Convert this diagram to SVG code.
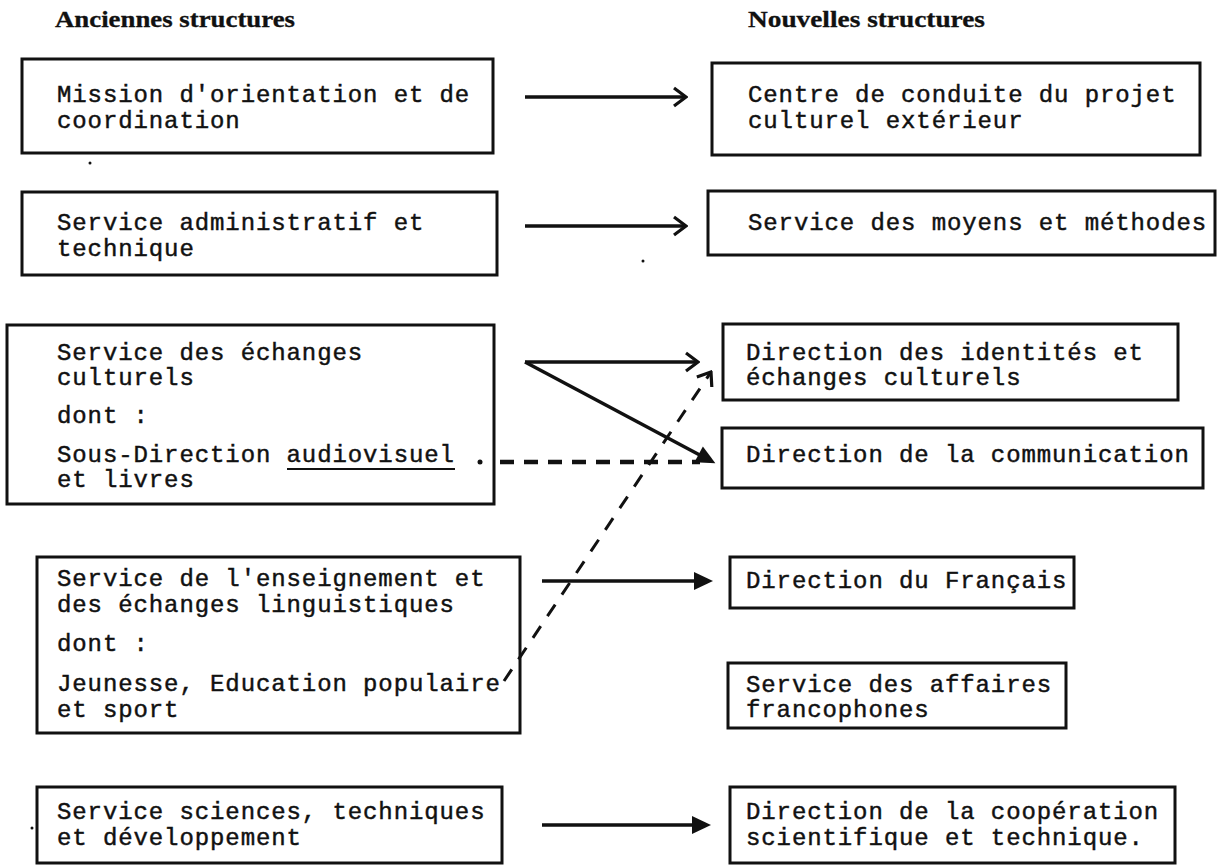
<svg xmlns="http://www.w3.org/2000/svg" width="1223" height="865" viewBox="0 0 1223 865">
<style>
  .bg { fill: #ffffff; }
  .box { fill: none; stroke: #111; stroke-width: 3; }
  .t { font-family: "Liberation Mono", "DejaVu Sans Mono", monospace; font-size: 24px; letter-spacing: 0.9px; fill: #111; stroke: #111; stroke-width: 0.45; }
  .h { font-family: "Liberation Serif", "Times New Roman", serif; font-size: 23px; font-weight: bold; fill: #111; stroke: #111; stroke-width: 0.3; }
  .ln { fill: none; stroke: #111; stroke-width: 3.5; }
  .dash { fill: none; stroke: #111; stroke-width: 4.5; stroke-dasharray: 14 10; }
  .dash2 { fill: none; stroke: #111; stroke-width: 3; stroke-dasharray: 14 12; }
  .ul { stroke: #111; stroke-width: 2; }
</style>
<defs>
  <marker id="open" viewBox="-16 -11 18 22" markerUnits="userSpaceOnUse" markerWidth="18" markerHeight="22" refX="0" refY="0" orient="auto">
    <path d="M-12,-9 L0,0 L-12,9" fill="none" stroke="#111" stroke-width="3.2"/>
  </marker>
  <marker id="fill" viewBox="-18 -11 24 22" markerUnits="userSpaceOnUse" markerWidth="24" markerHeight="22" refX="0" refY="0" orient="auto">
    <path d="M-14,-9 L5,0 L-14,9 Z" fill="#111"/>
  </marker>
</defs>
<rect class="bg" x="0" y="0" width="1223" height="865"/>

<g id="headers">
  <text class="h" x="55" y="27" textLength="240" lengthAdjust="spacingAndGlyphs">Anciennes structures</text>
  <text class="h" x="748" y="27" textLength="237" lengthAdjust="spacingAndGlyphs">Nouvelles structures</text>
</g>

<g id="old-mission">
  <rect class="box" x="22" y="59" width="471" height="94"/>
  <text class="t" x="57" y="102">Mission d'orientation et de</text>
  <text class="t" x="57" y="128">coordination</text>
</g>
<g id="old-admin">
  <rect class="box" x="22" y="192" width="475" height="83"/>
  <text class="t" x="57" y="230">Service administratif et</text>
  <text class="t" x="57" y="256">technique</text>
</g>
<g id="old-echanges">
  <rect class="box" x="7" y="325" width="487" height="179"/>
  <text class="t" x="57" y="360">Service des échanges</text>
  <text class="t" x="57" y="385">culturels</text>
  <text class="t" x="57" y="423">dont :</text>
  <text class="t" x="57" y="462">Sous-Direction audiovisuel</text>
  <line class="ul" x1="287" y1="469" x2="455" y2="469"/>
  <text class="t" x="57" y="487">et livres</text>
</g>
<g id="old-enseignement">
  <rect class="box" x="37" y="557" width="483" height="176"/>
  <text class="t" x="57" y="586">Service de l'enseignement et</text>
  <text class="t" x="57" y="612">des échanges linguistiques</text>
  <text class="t" x="57" y="651">dont :</text>
  <text class="t" x="57" y="691">Jeunesse, Education populaire</text>
  <text class="t" x="57" y="717">et sport</text>
</g>
<g id="old-sciences">
  <rect class="box" x="37" y="787" width="465" height="76"/>
  <text class="t" x="57" y="819">Service sciences, techniques</text>
  <text class="t" x="57" y="845">et développement</text>
</g>

<g id="new-centre">
  <rect class="box" x="712" y="63" width="488" height="92"/>
  <text class="t" x="748" y="102">Centre de conduite du projet</text>
  <text class="t" x="748" y="128">culturel extérieur</text>
</g>
<g id="new-moyens">
  <rect class="box" x="708" y="191" width="507" height="64"/>
  <text class="t" x="748" y="230">Service des moyens et méthodes</text>
</g>
<g id="new-identites">
  <rect class="box" x="723" y="324" width="455" height="76"/>
  <text class="t" x="746" y="360">Direction des identités et</text>
  <text class="t" x="746" y="385">échanges culturels</text>
</g>
<g id="new-communication">
  <rect class="box" x="722" y="428" width="481" height="60"/>
  <text class="t" x="746" y="462">Direction de la communication</text>
</g>
<g id="new-francais">
  <rect class="box" x="730" y="557" width="344" height="51"/>
  <text class="t" x="746" y="588">Direction du Français</text>
</g>
<g id="new-francophones">
  <rect class="box" x="728" y="663" width="338" height="65"/>
  <text class="t" x="746" y="692">Service des affaires</text>
  <text class="t" x="746" y="717">francophones</text>
</g>
<g id="new-cooperation">
  <rect class="box" x="730" y="787" width="445" height="76"/>
  <text class="t" x="746" y="819">Direction de la coopération</text>
  <text class="t" x="746" y="845">scientifique et technique.</text>
</g>

<g id="connectors">
  <line class="ln" x1="525" y1="97" x2="686" y2="97" marker-end="url(#open)"/>
  <line class="ln" x1="525" y1="226" x2="686" y2="226" marker-end="url(#open)"/>
  <line class="ln" x1="525" y1="362" x2="698" y2="362" marker-end="url(#open)"/>
  <line class="ln" x1="525" y1="362" x2="711" y2="461" marker-end="url(#fill)"/>
  <circle cx="480" cy="462" r="2.5" fill="#111"/>
  <line class="dash" x1="500" y1="462" x2="700" y2="462"/>
  <line class="dash2" x1="504" y1="681" x2="711" y2="372" marker-end="url(#open)"/>
  <line class="ln" x1="542" y1="581" x2="708" y2="581" marker-end="url(#fill)"/>
  <line class="ln" x1="542" y1="825" x2="706" y2="825" marker-end="url(#fill)"/>
</g>

<g id="specks">
  <circle cx="90" cy="163" r="1.5" fill="#111"/>
  <circle cx="643" cy="261" r="1.5" fill="#111"/>
  <circle cx="32" cy="828" r="1.5" fill="#111"/>
</g>
</svg>
